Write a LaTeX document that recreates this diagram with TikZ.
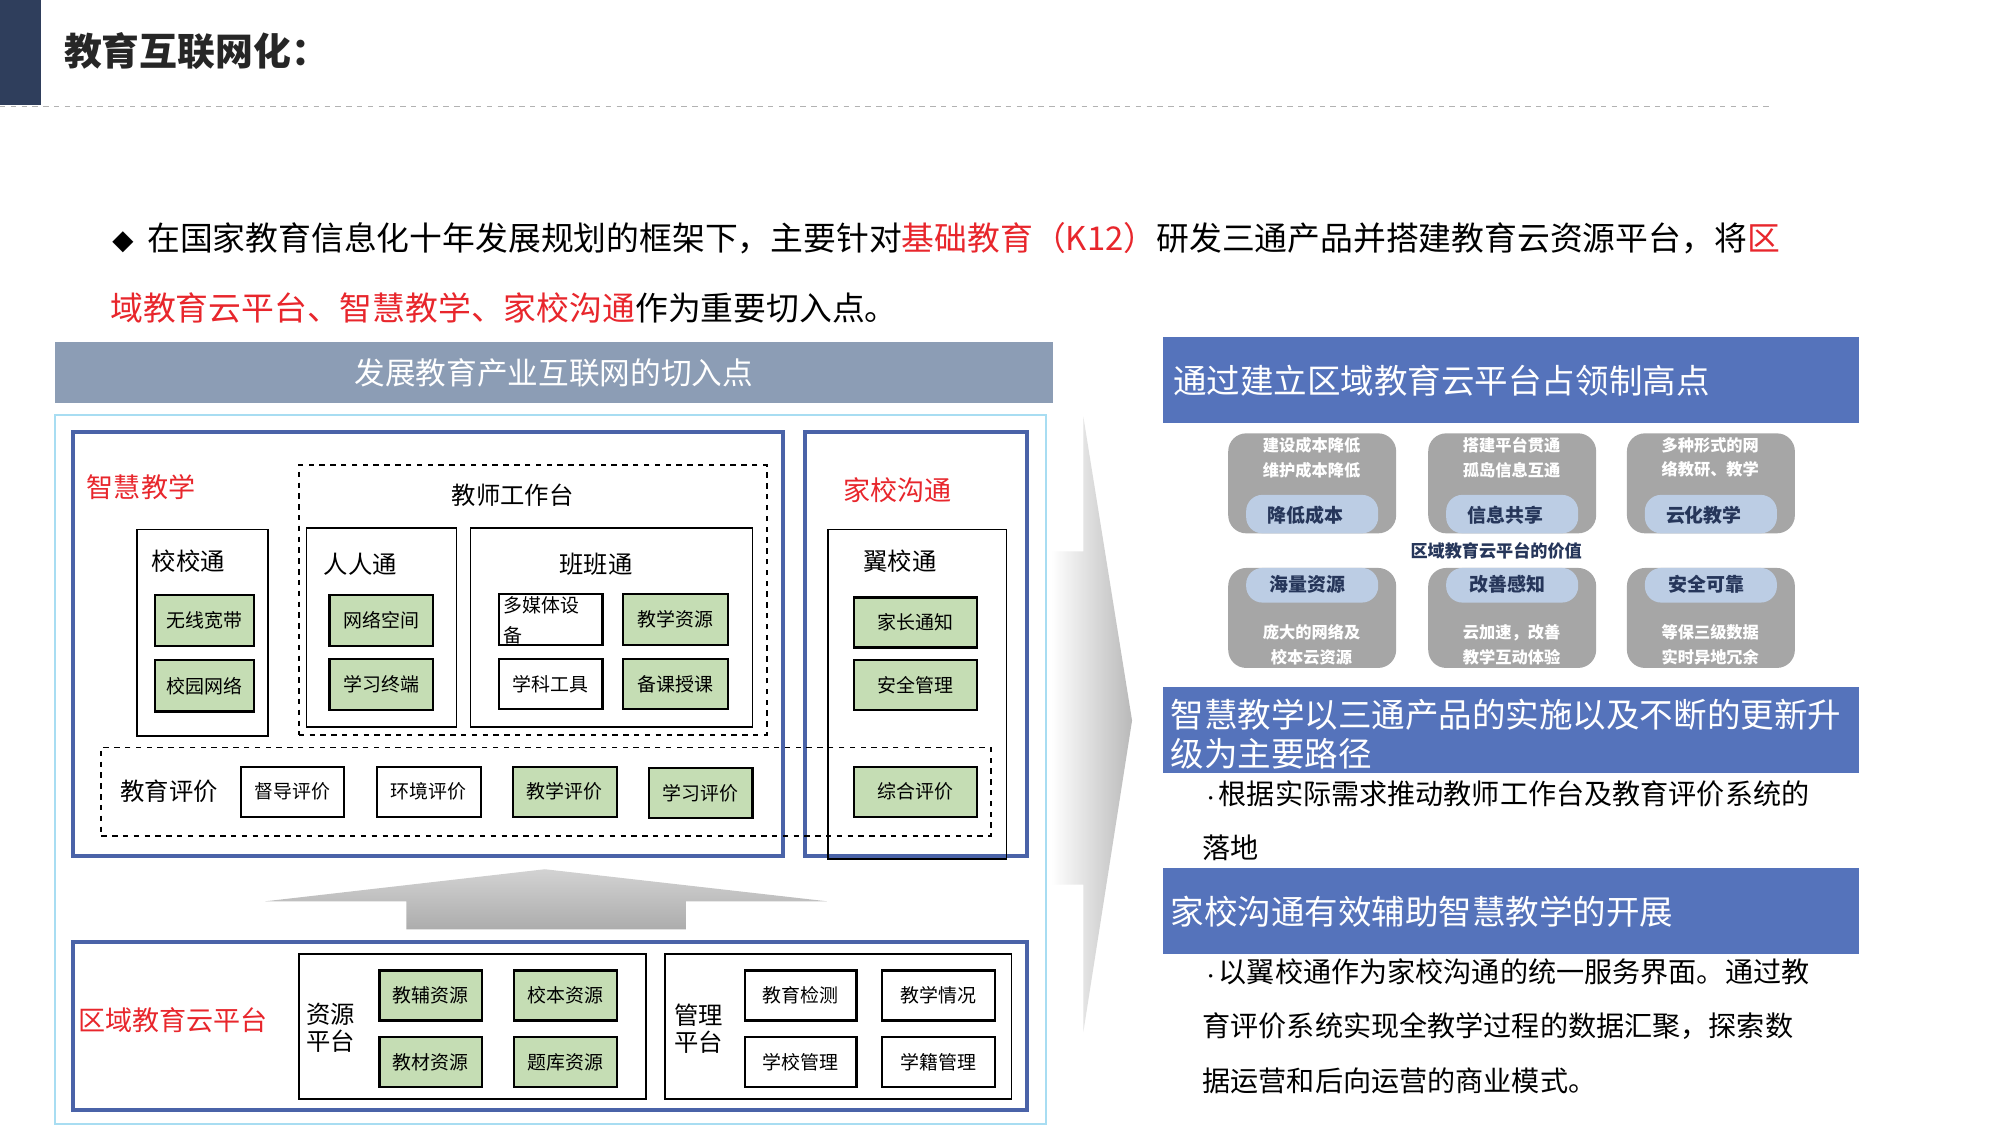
\documentclass[tikz,border=0pt]{standalone}
\usepackage{fontspec}
\setmainfont{Noto Sans CJK SC}
\usetikzlibrary{shapes.geometric}
\definecolor{navy}{HTML}{2F3E5C}
\definecolor{bline}{HTML}{4A63A8}
\definecolor{hblue}{HTML}{5573BB}
\definecolor{gbar}{HTML}{8C9DB5}
\definecolor{lgreen}{HTML}{C5DDB4}
\definecolor{tgray}{HTML}{A6A6A6}
\definecolor{pill}{HTML}{BCCDE4}
\definecolor{kred}{HTML}{E8262C}
\definecolor{lcyan}{HTML}{A8DDF2}
\definecolor{tnavy}{HTML}{26365A}
\newcommand\bx[7]{\node[#6, minimum width={(#4-#2)*0.025cm}, minimum height={(#5-#3)*0.025cm}] (#1) at ({(#2+#4)/2},{(#3+#5)/2}) {#7};}
\newcommand\smb{{\fontsize{9}{9}\selectfont •}}
\tikzset{
  every node/.style={inner sep=0pt, outer sep=0pt},
  gbox/.style={draw=black, line width=1.2pt, fill=lgreen, font=\fontsize{10.5}{12}\selectfont},
  wbox/.style={draw=black, line width=1.2pt, fill=white, font=\fontsize{10.5}{12}\selectfont},
  frame/.style={draw=black, line width=1pt},
  dframe/.style={draw=black, line width=1pt, dashed},
  bframe/.style={draw=bline, line width=2.2pt},
  lab/.style={font=\fontsize{13.5}{15}\selectfont},
  redlab/.style={font=\fontsize{15}{17}\selectfont, text=kred},
  hdr/.style={fill=hblue, text=white, font=\fontsize{18.6}{26}\selectfont, align=left},
  pl/.style={text=tnavy, font=\fontsize{10.5}{12}\bfseries\selectfont},
  tt/.style={text=white, font=\fontsize{9}{13.5}\bfseries\selectfont, align=center},
  body/.style={font=\fontsize{18.2}{20}\selectfont, anchor=west},
  rbody/.style={font=\fontsize{15.6}{18}\selectfont, anchor=west},
}
\begin{document}
\begin{tikzpicture}[x=0.025cm,y=-0.025cm]
\useasboundingbox[fill=white] (0,0) rectangle (1560,877.5);
% title
\fill[navy] (0,0) rectangle (32,82);
\node[anchor=west, font=\fontsize{21}{24}\bfseries\selectfont, text=black!85] (title) at (50,40) {教育互联网化：};
\draw[gray!60, dashed, line width=0.6pt] (0,83) -- (1380,83);
% bullet text
\node[body] (l1) at (88,186) {{\fontsize{12}{12}\selectfont ◆}\, 在国家教育信息化十年发展规划的框架下，主要针对\textcolor{kred}{基础教育（K12）}研发三通产品并搭建教育云资源平台，将\textcolor{kred}{区}};
\node[body] (l2) at (86,240) {\textcolor{kred}{域教育云平台、智慧教学、家校沟通}作为重要切入点。};
% left panel
\bx{bar}{43}{267}{821}{314}{fill=gbar, text=white, font=\fontsize{17}{20}\selectfont}{发展教育产业互联网的切入点}
\draw[lcyan, line width=1.2pt] (43,324) rectangle (816,877);
\bx{zh}{57}{337}{611}{668}{bframe}{}
\bx{jx}{628}{337}{801}{668}{bframe}{}
\node[redlab] (zhl) at (110,380) {智慧教学};
\node[redlab] (jxl) at (700,382) {家校沟通};
\bx{jsgzt}{233}{363}{598}{573}{dframe}{}
\node[lab] (jsl) at (400,386) {教师工作台};
\bx{xxt}{107}{413}{209}{574}{frame}{}
\node[lab] (xxtl) at (147,438) {校校通};
\bx{wxkd}{121}{464}{198}{504}{gbox}{无线宽带}
\bx{xywl}{121}{515}{198}{555}{gbox}{校园网络}
\bx{rrt}{239}{412}{356}{567}{frame}{}
\node[lab] (rrtl) at (281,440) {人人通};
\bx{wlkj}{257}{464}{338}{504}{gbox}{网络空间}
\bx{xxzd}{257}{514}{338}{554}{gbox}{学习终端}
\bx{bbt}{367}{412}{587}{567}{frame}{}
\node[lab] (bbtl) at (465,440) {班班通};
\bx{dmt}{389}{463}{470}{503}{wbox}{}
\node[anchor=north west, align=left, font=\fontsize{10.5}{17}\selectfont] (dmtl) at (393,465) {多媒体设\\备};
\bx{jxzy}{486}{463}{568}{503}{gbox}{教学资源}
\bx{xkgj}{389}{514}{470}{553}{wbox}{学科工具}
\bx{bksk}{486}{514}{568}{553}{gbox}{备课授课}
\bx{yxt}{646}{413}{785}{670}{frame}{}
\node[lab] (yxtl) at (702,438) {翼校通};
\bx{jztz}{666}{466}{762}{505}{gbox}{家长通知}
\bx{aqgl}{666}{515}{762}{554}{gbox}{安全管理}
\bx{jypj}{79}{583}{773}{652}{dframe}{}
\node[lab] (jypjl) at (132,617) {教育评价};
\bx{ddpj}{188}{598}{268}{637}{wbox}{督导评价}
\bx{hjpj}{294}{598}{375}{637}{wbox}{环境评价}
\bx{jxpj}{400}{598}{481}{637}{gbox}{教学评价}
\bx{xxpj}{506}{599}{587}{638}{gbox}{学习评价}
\bx{zhpj}{666}{598}{762}{637}{gbox}{综合评价}
% up arrow
\shade[top color=gray!35, bottom color=gray!65] (207,703) -- (425,678) -- (645,703) -- (535,703) -- (535,725) -- (317,725) -- (317,703) -- cycle;
% bottom
\bx{qy}{57}{735}{801}{866}{bframe}{}
\node[redlab] (qyl) at (135,796) {区域教育云平台};
\bx{zypt}{233}{744}{504}{857}{frame}{}
\node[lab, align=center] (zyptl) at (258,802) {资源\\平台};
\bx{jfzy}{296}{757}{376}{796}{gbox}{教辅资源}
\bx{xbzy}{401}{757}{481}{796}{gbox}{校本资源}
\bx{jczy}{296}{809}{376}{848}{gbox}{教材资源}
\bx{tkzy}{401}{809}{481}{848}{gbox}{题库资源}
\bx{glpt}{519}{744}{789}{857}{frame}{}
\node[lab, align=center] (glptl) at (545,802) {管理\\平台};
\bx{jyjc}{581}{757}{668}{796}{wbox}{教育检测}
\bx{jxqk}{688}{757}{776}{796}{wbox}{教学情况}
\bx{xxgl}{581}{809}{668}{848}{wbox}{学校管理}
\bx{xjgl}{688}{809}{776}{848}{wbox}{学籍管理}
% right chevron
\shade[left color=white, right color=gray!55] (820,430) -- (845,430) -- (845,325) -- (883,562) -- (845,805) -- (845,690) -- (820,690) -- cycle;
% right panel
\fill[hblue] (907,263) rectangle (1450,330);
\node[hdr, anchor=west] (h1) at (915,297) {通过建立区域教育云平台占领制高点};
\foreach \x/\n/\a/\b/\p in {958/t1/建设成本降低/维护成本降低/降低成本, 1114/t2/搭建平台贯通/孤岛信息互通/信息共享, 1269/t3/多种形式的网/络教研、教学/云化教学}{
  \fill[tgray, rounded corners=10pt] (\x,338) rectangle ({\x+131},416);
  \node[tt] (\n) at ({\x+65},357) {\a\\\b};
  \fill[pill, rounded corners=9pt] ({\x+14},386) rectangle ({\x+117},416);
  \node[pl] (\n p) at ({\x+60},402) {\p};
}
\foreach \x/\n/\a/\b/\p in {958/b1/庞大的网络及/校本云资源/海量资源, 1114/b2/云加速，改善/教学互动体验/改善感知, 1269/b3/等保三级数据/实时异地冗余/安全可靠}{
  \fill[tgray, rounded corners=10pt] (\x,443) rectangle ({\x+131},521);
  \fill[pill, rounded corners=9pt] ({\x+14},443) rectangle ({\x+117},470);
  \node[pl] (\n p) at ({\x+62},456) {\p};
  \node[tt] (\n) at ({\x+65},503) {\a\\\b};
}
\node[text=tnavy, font=\fontsize{9.5}{11}\bfseries\selectfont] (val) at (1167,430) {区域教育云平台的价值};
\fill[hblue] (907,536) rectangle (1450,603);
\node[hdr, anchor=north west, font=\fontsize{18.6}{22}\selectfont] (h2) at (913,545) {智慧教学以三通产品的实施以及不断的更新升\\级为主要路径};
\node[rbody] (r1) at (938,619) {\smb 根据实际需求推动教师工作台及教育评价系统的};
\node[rbody] (r2) at (938,661) {落地};
\fill[hblue] (907,677) rectangle (1450,744);
\node[hdr, anchor=west] (h3) at (913,711) {家校沟通有效辅助智慧教学的开展};
\node[rbody] (r3) at (938,758) {\smb 以翼校通作为家校沟通的统一服务界面。通过教};
\node[rbody] (r4) at (938,800) {育评价系统实现全教学过程的数据汇聚，探索数};
\node[rbody] (r5) at (938,843) {据运营和后向运营的商业模式。};
\end{tikzpicture}
\end{document}
